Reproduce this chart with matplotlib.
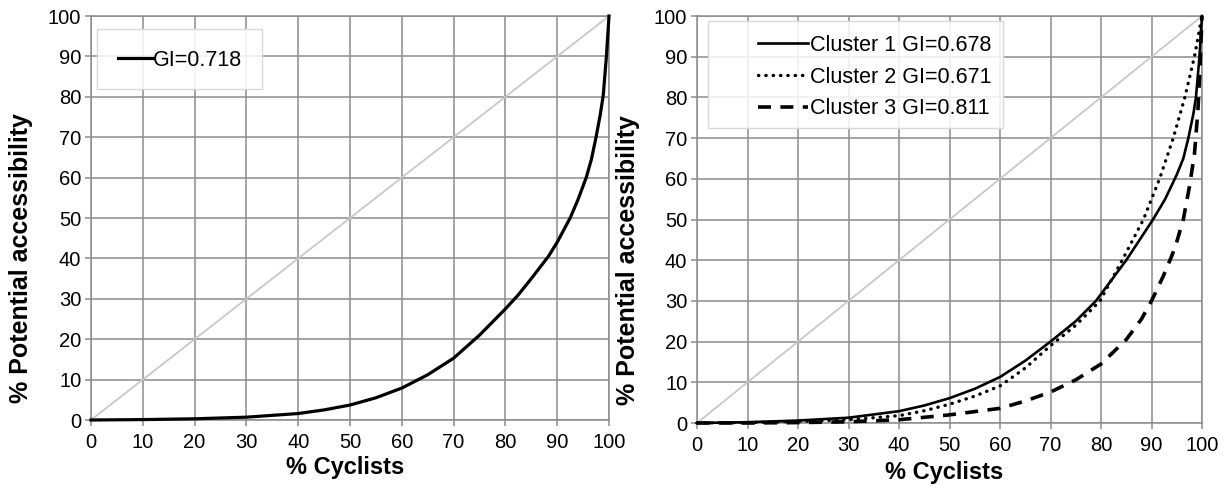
import numpy as np
import matplotlib
matplotlib.use('Agg')
import matplotlib.pyplot as plt
from matplotlib.patches import Rectangle

plt.rcParams['font.family'] = ['Liberation Sans', 'DejaVu Sans']

# whole sample curve (left panel)
all_x = [0, 10, 20, 30, 40, 45, 50, 55, 60, 65, 70, 75, 80, 82.5, 85, 88.3, 90, 92.5, 94, 95.6, 96.6, 97.5, 98.3, 98.9, 99.5, 100]
all_y = [0, 0.1, 0.3, 0.7, 1.6, 2.5, 3.7, 5.5, 7.9, 11.2, 15.3, 21, 27.5, 31, 35, 40.5, 44, 50, 54.5, 60, 64.5, 70, 75.5, 80.5, 90, 100]

# clusters (right panel)
c1_x = [0, 10, 20, 30, 40, 45, 50, 55, 60, 65, 70, 75, 79, 85, 90.3, 92.7, 95, 96.3, 97.3, 98.3, 98.8, 99.5, 100]
c1_y = [0, 0.2, 0.6, 1.3, 2.9, 4.3, 6.1, 8.4, 11.3, 15.3, 20, 25, 30, 40, 50, 55, 61, 65, 70, 76, 80, 90, 100]

c2_x = [0, 10, 20, 30, 40, 45, 50, 55, 60, 65, 70, 75, 79.8, 84.2, 88.4, 91.6, 94.3, 96.6, 98.5, 100]
c2_y = [0, 0.1, 0.4, 0.8, 1.8, 3.0, 4.6, 6.6, 9.1, 13.5, 19, 24, 30, 40, 50, 60, 70, 80, 90, 100]

c3_x = [0, 10, 20, 30, 40, 50, 60, 65, 70, 75, 80, 85, 88, 90, 92.3, 94, 95, 96.3, 97.5, 98.5, 99.2, 99.6, 100]
c3_y = [0, 0, 0.1, 0.3, 0.8, 2.0, 3.6, 5.4, 7.6, 10.6, 14.5, 20.5, 25.5, 30, 36, 41, 44.5, 50, 58, 66, 77, 87, 100]

labels = ['Cluster 1 GI=0.678', 'Cluster 2 GI=0.671', 'Cluster 3 GI=0.811']
ticks = list(range(0, 101, 10))

grid_col = '#8c8c8c'
W, H = 1227, 486

fig = plt.figure(figsize=(12.27, 4.86), dpi=100)
ax1 = fig.add_axes([91/W, 66/H, 518/W, 404/H])
ax2 = fig.add_axes([697/W, 63/H, 505/W, 407/H])


def style(ax, xlab_y):
    ax.set_xlim(0, 100)
    ax.set_ylim(0, 100)
    ax.set_xticks(ticks)
    ax.set_yticks(ticks)
    ax.grid(True, color=grid_col, lw=1.1)
    ax.set_axisbelow(True)
    for s in ax.spines.values():
        s.set_color(grid_col)
        s.set_linewidth(1.1)
    ax.tick_params(direction='out', length=4, width=1.1, color=grid_col,
                   labelsize=14.5)
    ax.tick_params(axis='x', pad=5)
    ax.tick_params(axis='y', pad=3)
    ax.set_xlabel('% Cyclists', fontsize=17, fontweight='bold')
    ax.set_ylabel('% Potential accessibility', fontsize=18, fontweight='bold')
    ax.xaxis.set_label_coords(0.49, xlab_y)
    ax.yaxis.set_label_coords(-0.112, 0.40)
    ax.plot([0, 100], [0, 100], color='#c8c8c8', lw=1.3, zorder=2)


def legend_box(ax, x0, y0, x1, y1):
    # legend frame in pixel coords (top-left origin)
    r = Rectangle((x0/W, 1 - y1/H), (x1 - x0)/W, (y1 - y0)/H, transform=fig.transFigure,
                  facecolor='white', alpha=0.85, edgecolor='none', zorder=4.5, clip_on=False)
    e = Rectangle((x0/W, 1 - y1/H), (x1 - x0)/W, (y1 - y0)/H, transform=fig.transFigure,
                  facecolor='none', edgecolor='#d9d9d9', lw=1.0, zorder=4.6, clip_on=False)
    ax.add_patch(r)
    ax.add_patch(e)


style(ax1, -0.089)
style(ax2, -0.093)

ax1.plot(all_x, all_y, color='black', lw=2.3, label='GI=0.718', zorder=3, clip_on=False)
legend_box(ax1, 97, 29, 262, 89)
ax1.legend(loc='center left', bbox_to_anchor=(118/W, 1 - 60/H), bbox_transform=fig.transFigure,
           fontsize=15.5, handlelength=1.63, handletextpad=0.0, borderpad=0,
           frameon=False, borderaxespad=0)

ax2.plot(c1_x, c1_y, color='black', lw=1.9, label=labels[0], zorder=3, clip_on=False)
ax2.plot(c2_x, c2_y, color='black', lw=2.4, linestyle=(0, (0.1, 2.1)),
         dash_capstyle='round', label=labels[1], zorder=3, clip_on=False)
ax2.plot(c3_x, c3_y, color='black', lw=2.6, linestyle=(0, (3.6, 2.6)),
         label=labels[2], zorder=3, clip_on=False)
legend_box(ax2, 708, 21, 1003, 128)
ax2.legend(loc='center left', bbox_to_anchor=(758/W, 1 - 77/H), bbox_transform=fig.transFigure,
           fontsize=15.5, handlelength=2.33, handletextpad=0.1, borderpad=0,
           labelspacing=0.5, frameon=False, borderaxespad=0)

fig.savefig('out.png', dpi=100)
